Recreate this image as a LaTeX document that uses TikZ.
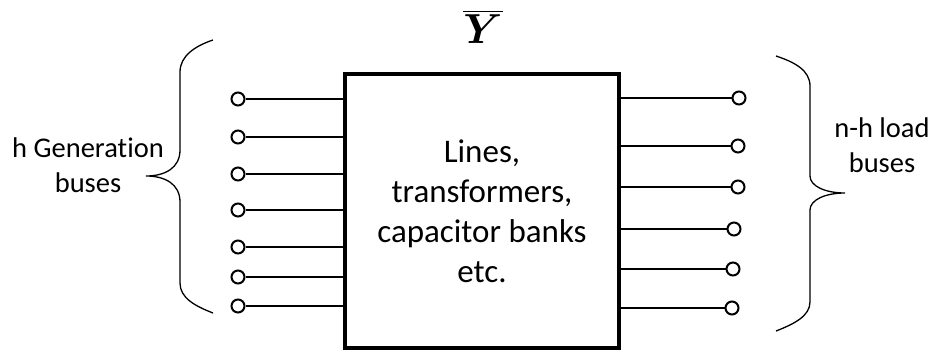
\RequirePackage{fix-cm}
\documentclass[tikz,border=0pt]{standalone}
\usepackage{fontspec}
\setmainfont{Carlito}[Ligatures={NoCommon}]
\usepackage{amsmath}
\usepackage{bm}

\begin{document}
\begin{tikzpicture}[
  x=1pt, y=-1pt,
  netbox/.style={rectangle, draw, line width=4.5pt, minimum width=274pt,
                 minimum height=274pt, align=center, inner sep=0pt,
                 font=\fontsize{33}{40}\selectfont},
  busend/.style={circle, draw, line width=2pt, minimum size=13pt,
                 inner sep=0pt, fill=white},
  lead/.style={line width=2pt},
  brace/.style={line width=1.3pt},
  grouplbl/.style={align=center, font=\fontsize{28.5}{35}\selectfont},
]
\useasboundingbox (0,0) rectangle (935,356);

\node[netbox] (net) at (482,211) {Lines,\\transformers,\\capacitor banks\\etc.};
\node[font=\fontsize{42}{42}\selectfont] (ybar) at (483,27) {$\overline{\bm{Y}}$};

% generation side
\foreach \yy [count=\i] in {99,137,174,210,247,277,306} {
  \node[busend] (g\i) at (238,\yy) {};
  \draw[lead] (g\i.east) -- (net.west |- g\i);
}
% load side
\foreach \xx/\yy [count=\i] in {739/98,738/146,738/187,734/229,733/269,732/308} {
  \node[busend] (l\i) at (\xx,\yy) {};
  \draw[lead] (net.east |- l\i) -- (l\i.west);
}

% braces
\draw[brace] (213,40) .. controls (195,46) and (180,56) .. (180,72) -- (180,150)
  .. controls (180,168) and (165,176) .. (146,176)
  .. controls (165,176) and (180,184) .. (180,202) -- (180,283)
  .. controls (180,298) and (195,306) .. (213,313);
\draw[brace] (776,56) .. controls (794,62) and (810,70) .. (810,86) -- (810,176)
  .. controls (810,186) and (825,193) .. (845,193)
  .. controls (825,193) and (810,200) .. (810,210) -- (810,302)
  .. controls (810,316) and (794,324) .. (776,331);

\node[grouplbl] (genlbl) at (88,165) {h Generation\\buses};
\node[grouplbl] (loadlbl) at (882,145) {n-h load\\buses};
\end{tikzpicture}
\end{document}
